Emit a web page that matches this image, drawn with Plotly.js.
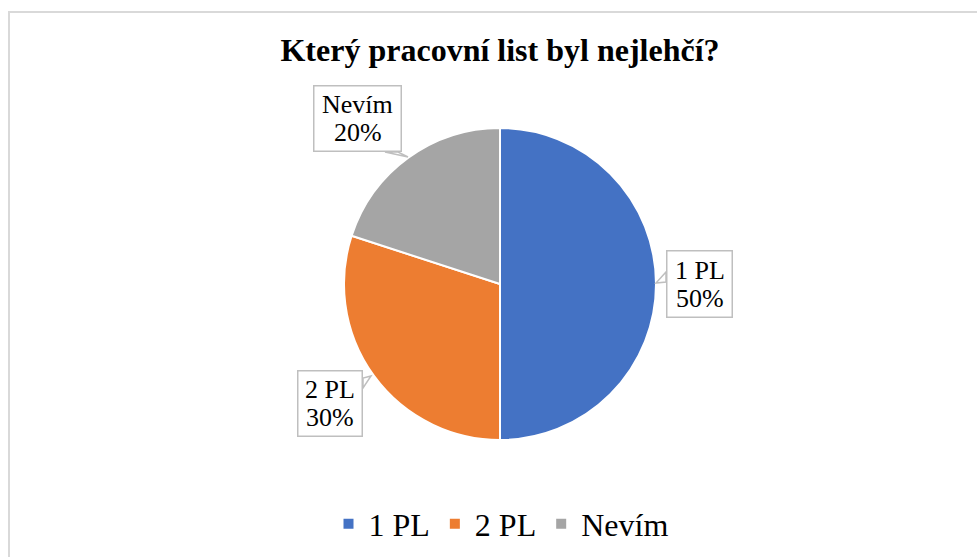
<!DOCTYPE html>
<html>
<head>
<meta charset="utf-8">
<script src="https://cdn.plot.ly/plotly-3.0.1.min.js"></script>
<style>html,body{margin:0;padding:0;background:#fff;}#chart{width:977px;height:557px;}</style>
</head>
<body>
<div id="chart"></div>
<script>
const categories = ["1 PL", "2 PL", "Nevím"];
const values = [50, 30, 20];
const percentLabels = ["50%", "30%", "20%"];
const colors = ["#4472C4", "#ED7D31", "#A5A5A5"];

const W = 977, H = 557;
const px = x => x / W;
const py = y => 1 - y / H;

// label boxes (pixel centres / sizes) and callout tails
const boxes = [
  {cx: 699.5, cy: 284, w: 67, h: 68, tail: [[666,272],[666,282],[656,283]]},
  {cx: 330, cy: 403.5, w: 66, h: 67, tail: [[363,378],[363,388],[371,376]]},
  {cx: 357.5, cy: 118.5, w: 89, h: 67, tail: [[385,152],[398,152],[408,157]]}
];

const font = "Liberation Serif, Times New Roman, serif";

const annotations = [];
categories.forEach((c, i) => {
  const b = boxes[i];
  annotations.push({
    xref: "paper", yref: "paper", x: px(b.cx), y: py(b.cy),
    xanchor: "center", yanchor: "middle", text: " ", showarrow: false,
    font: {family: font, size: 10}, bgcolor: "#fff",
    bordercolor: "#BFBFBF", borderwidth: 1.5, borderpad: 0,
    width: b.w - 3, height: b.h - 3
  });
  [c, percentLabels[i]].forEach((t, k) => {
    annotations.push({
      xref: "paper", yref: "paper", x: px(b.cx), y: py(b.cy - 14 + 28 * k),
      xanchor: "center", yanchor: "middle", text: t, showarrow: false,
      font: {family: font, size: 26, color: "#000"}
    });
  });
});

const shapes = [
  {type: "rect", xref: "paper", yref: "paper", x0: px(9), x1: 1.2, y0: -0.2, y1: py(12),
   line: {color: "#D9D9D9", width: 2}, fillcolor: "rgba(0,0,0,0)", layer: "below"}
].concat(boxes.map(b => ({
  type: "path", xref: "paper", yref: "paper",
  path: "M " + b.tail.map(p => px(p[0]) + "," + py(p[1])).join(" L ") + " Z",
  line: {color: "#BFBFBF", width: 1.5}, fillcolor: "#fff", layer: "above"
})));

const trace = {
  type: "pie",
  labels: categories,
  values: values,
  sort: false,
  direction: "clockwise",
  rotation: 0,
  textinfo: "none",
  hoverinfo: "label+percent",
  marker: {colors: colors, line: {color: "#fff", width: 2}},
  domain: {x: [px(344), px(656)], y: [py(440), py(128)]}
};

const layout = {
  width: W, height: H,
  margin: {l: 0, r: 0, t: 0, b: 0},
  paper_bgcolor: "#fff",
  title: {text: "<b>Který pracovní list byl nejlehčí?</b>", x: px(500), xanchor: "center",
          y: py(50), yanchor: "middle", font: {family: font, size: 32, color: "#000"}},
  showlegend: true,
  legend: {orientation: "h", x: px(501), xanchor: "center", y: py(524), yanchor: "middle",
           font: {family: font, size: 32, color: "#000"}, itemwidth: 30, traceorder: "normal"},
  annotations: annotations,
  shapes: shapes
};

Plotly.newPlot("chart", [trace], layout, {displayModeBar: false, staticPlot: true});
</script>
</body>
</html>
